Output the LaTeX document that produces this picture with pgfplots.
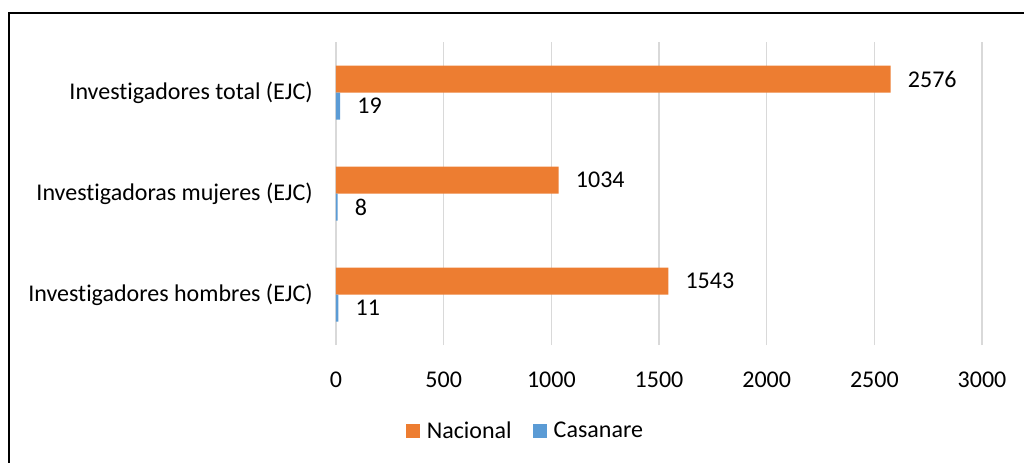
\documentclass[border=0pt]{standalone}
\usepackage{fontspec}
\setmainfont{Carlito}[Ligatures=NoCommon]
\usepackage{pgfplots}
\pgfplotsset{compat=1.18}

\definecolor{naranja}{HTML}{ED7D31}
\definecolor{azul}{HTML}{5B9BD5}
\definecolor{rejilla}{HTML}{D9D9D9}

\begin{document}
\begin{tikzpicture}
\useasboundingbox (0pt,0pt) rectangle (768pt,346.5pt);
% marco (solo arriba e izquierda visibles)
\draw[line width=1.5pt] (6.75pt,-2pt) -- (6.75pt,336.75pt) -- (770pt,336.75pt);

\begin{axis}[
    at={(252pt,87.75pt)}, anchor=south west,
    scale only axis,
    width=484.5pt, height=227.25pt,
    font=\fontsize{18pt}{21pt}\selectfont,
    /pgf/number format/assume math mode=true,
    /pgf/number format/1000 sep={},
    xbar,
    bar width=20.25pt,
    xmin=0, xmax=3000,
    ymin=-0.5, ymax=2.5,
    xtick={0,500,...,3000},
    ytick={0,1,2},
    yticklabels={Investigadores hombres (EJC),Investigadoras mujeres (EJC),Investigadores total (EJC)},
    axis line style={draw=none},
    major tick length=0pt,
    xmajorgrids,
    grid style={rejilla, line width=1pt},
    xticklabel style={anchor=center, yshift=-26pt},
    yticklabel style={anchor=east, inner sep=0pt, xshift=-17.25pt},
    nodes near coords,
    nodes near coords style={anchor=west, inner sep=0pt, xshift=12.75pt, black},
    legend columns=2,
    legend style={draw=none, at={(0.294,-0.284)}, anchor=center,
        /tikz/every even column/.append style={column sep=14pt},
        font=\fontsize{18pt}{21pt}\selectfont},
    legend image code/.code={\fill[#1] (0pt,-5.25pt) rectangle (10.5pt,5.25pt); \path (13.5pt,0pt);},
]
\addplot[fill=naranja, draw=none, bar shift=10.125pt] coordinates {
    (1543,0) (1034,1) (2576,2)
};
\addlegendentry{Nacional}
\addplot[fill=azul, draw=none, bar shift=-10.125pt] coordinates {
    (11,0) (8,1) (19,2)
};
\addlegendentry{Casanare}
\end{axis}
\end{tikzpicture}
\end{document}
